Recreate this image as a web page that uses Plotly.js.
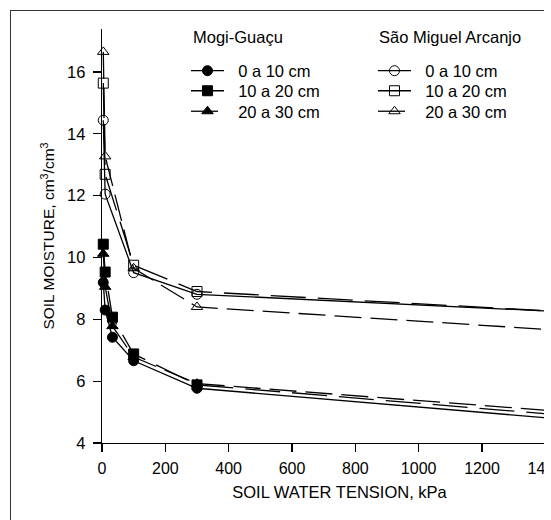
<!DOCTYPE html>
<html><head><meta charset="utf-8">
<script src="https://cdn.plot.ly/plotly-3.0.1.min.js"></script>
<style>
html,body{margin:0;padding:0;background:#fff;}
#clip{position:relative;width:544px;height:520px;overflow:hidden;background:#fff;}
#plot{position:absolute;left:0;top:0;width:640px;height:520px;}
#frame{position:absolute;left:10px;top:10px;width:700px;height:700px;border:1.5px solid #333;pointer-events:none;}
</style></head><body>
<div id="clip"><div id="plot"></div><div id="frame"></div></div>
<script>
// Soil water tension (kPa)
const tensionMG = [4, 10, 33, 100, 300, 1500];
const tensionSMA = [4, 10, 100, 300, 1500];
const depthLabels = ['0 a 10 cm', '10 a 20 cm', '20 a 30 cm'];
// Mogi-Guaçu soil moisture
const mg0_10 = [9.19, 8.30, 7.42, 6.66, 5.77, 4.73];
const mg10_20 = [10.43, 9.53, 8.07, 6.88, 5.88, 4.86];
const mg20_30 = [10.12, 9.05, 7.78, 6.78, 5.92, 4.98];
// São Miguel Arcanjo soil moisture
const sma0_10 = [14.44, 12.05, 9.51, 8.81, 8.22];
const sma10_20 = [15.64, 12.69, 9.75, 8.90, 8.22];
const sma20_30 = [16.65, 13.27, 9.65, 8.40, 7.61];
const xTicks = [0, 200, 400, 600, 800, 1000, 1200, 1400];
const yTicks = [4, 6, 8, 10, 12, 14, 16];

const FONT = 'Liberation Sans, Arial, sans-serif';
const dashes = ['solid', '35px,12px', '27px,9px'];
const mgSymbols = ['circle', 'square', 'triangle-up'];
const smaSymbols = ['circle-open', 'square-open', 'triangle-up-open'];
const mgData = [mg0_10, mg10_20, mg20_30];
const smaData = [sma0_10, sma10_20, sma20_30];
const rowY = [0.8986, 0.8502, 0.8007];
const NB = '\u00a0\u00a0';

const traces = [];
const layoutLegends = {};
mgData.forEach((ys, i) => {
  const key = 'legend' + (i === 0 ? '' : (i + 1));
  traces.push({
    x: tensionMG, y: ys, type: 'scatter', mode: 'lines+markers',
    name: NB + depthLabels[i], legend: key, cliponaxis: false,
    line: {color: '#000', width: 1.3, dash: dashes[i]},
    marker: {symbol: mgSymbols[i], size: 10, color: '#000', line: {color: '#000', width: 1}}
  });
  layoutLegends[key] = {x: 0.1768, y: rowY[i], xanchor: 'left', yanchor: 'middle',
    bgcolor: 'rgba(0,0,0,0)', font: {family: FONT, size: 16.5}, itemwidth: 33, itemclick: false};
});
smaData.forEach((ys, i) => {
  const key = 'legend' + (i + 4);
  traces.push({
    x: tensionSMA, y: ys, type: 'scatter', mode: 'lines+markers',
    name: NB + depthLabels[i], legend: key, cliponaxis: false,
    line: {color: '#000', width: 1.3, dash: dashes[i]},
    marker: {symbol: smaSymbols[i], size: 10, color: '#000', line: {color: '#000', width: 1}}
  });
  layoutLegends[key] = {x: 0.5705, y: rowY[i], xanchor: 'left', yanchor: 'middle',
    bgcolor: 'rgba(0,0,0,0)', font: {family: FONT, size: 16.5}, itemwidth: 33, itemclick: false};
});

const layout = Object.assign({
  width: 640, height: 520,
  margin: {l: 102, r: 63, t: 29, b: 77},
  paper_bgcolor: 'rgba(0,0,0,0)', plot_bgcolor: 'rgba(0,0,0,0)',
  font: {family: FONT, size: 16, color: '#000'},
  showlegend: true,
  xaxis: {
    range: [0, 1500], tickvals: xTicks, ticktext: xTicks.map(String),
    showgrid: false, zeroline: false, showline: true, linecolor: '#000', linewidth: 1.3,
    ticks: 'outside', ticklen: 8, tickwidth: 1.3, tickcolor: '#000', ticklabelstandoff: 2,
    tickfont: {family: FONT, size: 16},
    title: {text: 'SOIL WATER TENSION, kPa', font: {family: FONT, size: 16.5}, standoff: 11}
  },
  yaxis: {
    range: [4, 17.39], tickvals: yTicks, ticktext: yTicks.map(String),
    showgrid: false, zeroline: false, showline: true, linecolor: '#000', linewidth: 1.3,
    ticks: 'outside', ticklen: 8, tickwidth: 1.3, tickcolor: '#000', ticklabelstandoff: 4,
    tickfont: {family: FONT, size: 16.5},
    title: {text: 'SOIL MOISTURE, cm<sup>3</sup>/cm<sup>3</sup>', font: {family: FONT, size: 15.5, color: '#000'}, standoff: 8}
  },
  annotations: [
    {text: 'Mogi-Guaçu', xref: 'paper', yref: 'paper', x: 0.187, y: 0.981,
     xanchor: 'left', yanchor: 'middle', showarrow: false, font: {family: FONT, size: 16.5}},
    {text: 'São Miguel Arcanjo', xref: 'paper', yref: 'paper', x: 0.579, y: 0.981,
     xanchor: 'left', yanchor: 'middle', showarrow: false, font: {family: FONT, size: 16.5}}
  ]
}, layoutLegends);
Plotly.newPlot('plot', traces, layout, {displayModeBar: false, staticPlot: true});
</script>
</body></html>
